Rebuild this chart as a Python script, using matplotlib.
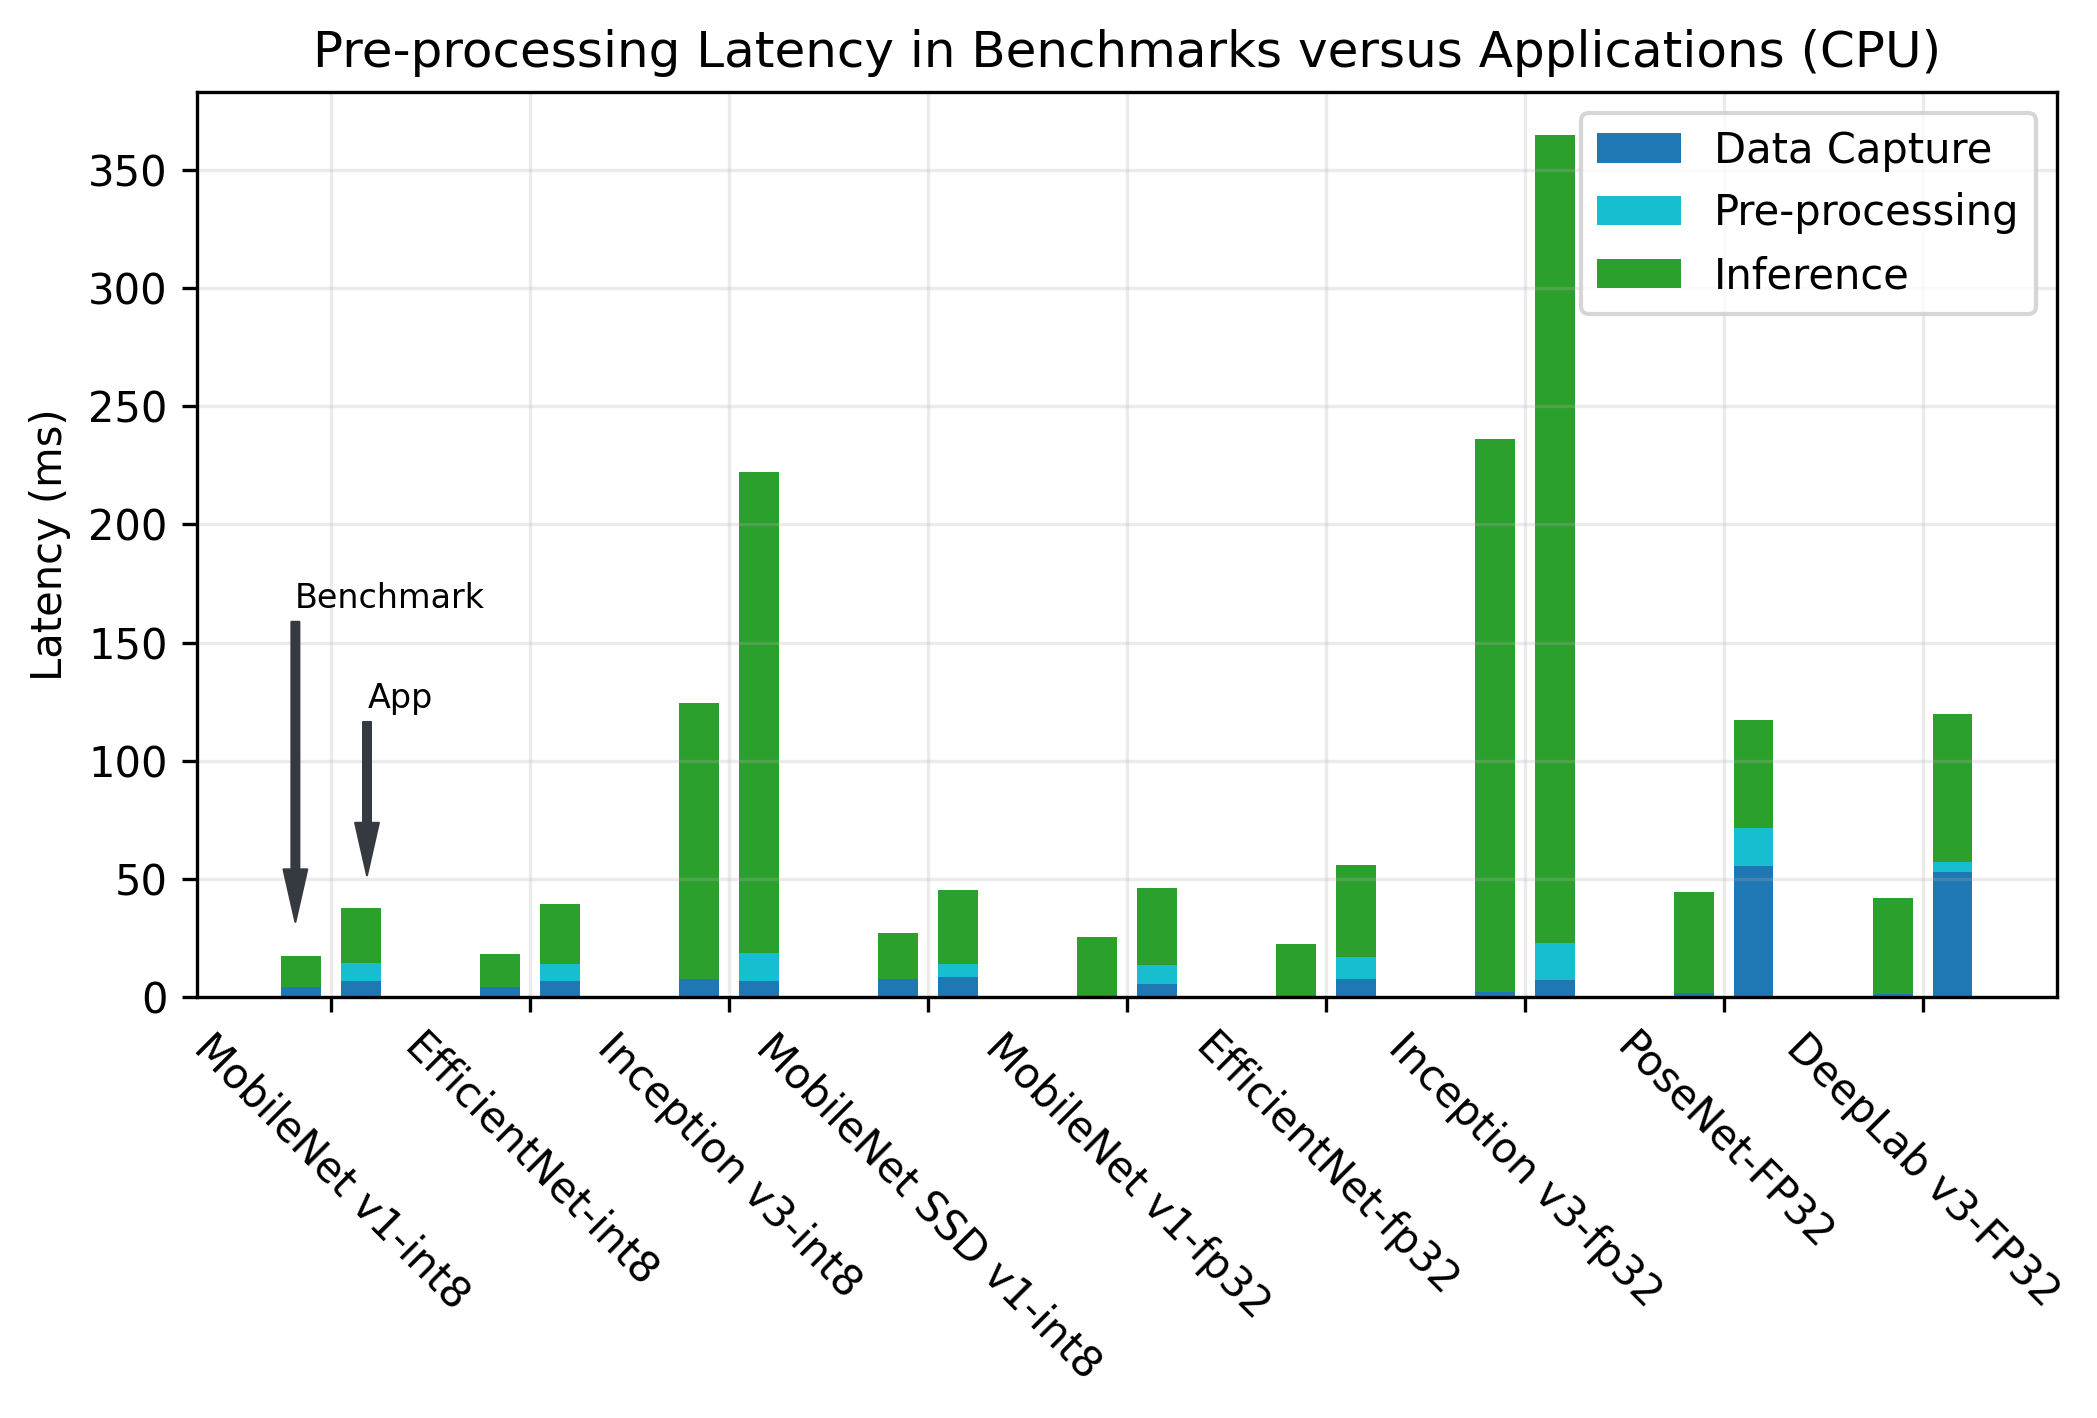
import numpy as np
import matplotlib
matplotlib.use("Agg")
import matplotlib.pyplot as plt

# models, one benchmark bar and one app bar each
models = ['MobileNet v1-int8', 'EfficientNet-int8', 'Inception v3-int8',
          'MobileNet SSD v1-int8', 'MobileNet v1-fp32', 'EfficientNet-fp32',
          'Inception v3-fp32', 'PoseNet-FP32', 'DeepLab v3-FP32']

# latencies in ms
bench_capture = [4.1, 4.1, 7.6, 7.6, 0.7, 0.7, 2.0, 1.6, 1.3]
bench_pre = [0, 0, 0, 0, 0, 0, 0, 0, 0]
bench_infer = [13.3, 14.2, 116.7, 19.3, 24.9, 21.9, 234.1, 42.8, 40.6]

app_capture = [6.7, 6.7, 6.7, 8.4, 5.4, 7.6, 7.1, 55.6, 53.0]
app_pre = [7.7, 7.3, 12.0, 5.6, 8.2, 9.4, 15.9, 15.9, 4.3]
app_infer = [23.2, 25.3, 203.4, 31.3, 32.5, 39.0, 341.8, 45.6, 62.5]

c_capture = '#1f77b4'
c_pre = '#17becf'
c_infer = '#2ca02c'

fig = plt.figure(figsize=(2097 / 300, 1418 / 300), dpi=300)
ax = fig.add_axes([0.0939, 0.2969, 0.887, 0.6382])

x = np.arange(len(models))
w = 0.2

# benchmark bars
bc = np.array(bench_capture)
bp = np.array(bench_pre)
bi = np.array(bench_infer)
ax.bar(x - 0.15, bc, w, color=c_capture, label='Data Capture')
ax.bar(x - 0.15, bp, w, bottom=bc, color=c_pre, label='Pre-processing')
ax.bar(x - 0.15, bi, w, bottom=bc + bp, color=c_infer, label='Inference')

# app bars
ac = np.array(app_capture)
ap = np.array(app_pre)
ai = np.array(app_infer)
ax.bar(x + 0.15, ac, w, color=c_capture)
ax.bar(x + 0.15, ap, w, bottom=ac, color=c_pre)
ax.bar(x + 0.15, ai, w, bottom=ac + ap, color=c_infer)

ax.set_xticks(x)
ax.set_xticklabels(models, rotation=-45)
ax.set_ylabel('Latency (ms)')
ax.set_title('Pre-processing Latency in Benchmarks versus Applications (CPU)')
ax.grid(alpha=0.25)
ax.legend(loc='upper right')

# arrows pointing at the first pair of bars
arrow_kw = dict(width=1.9, headwidth=5.7, headlength=12.6, shrink=0,
                color='#343a40', lw=0.5)
ax.annotate('', xy=(-0.18, 31.8), xytext=(-0.18, 158.8), arrowprops=arrow_kw)
ax.text(-0.185, 164.5, 'Benchmark', fontsize=8)
ax.annotate('', xy=(0.18, 51.5), xytext=(0.18, 116.4), arrowprops=arrow_kw)
ax.text(0.183, 122.2, 'App', fontsize=8)

fig.savefig('out.png', dpi=300)
